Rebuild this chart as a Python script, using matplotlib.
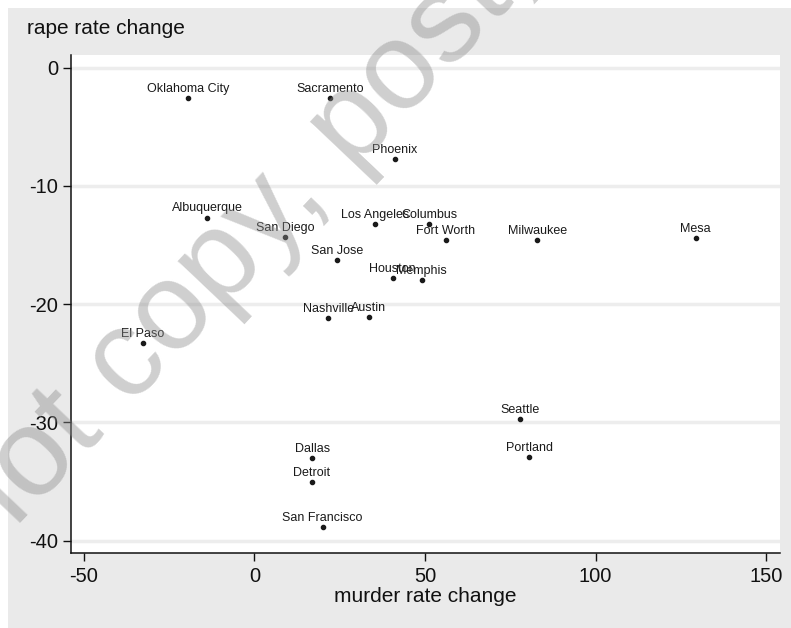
import matplotlib
matplotlib.use("Agg")
import matplotlib.pyplot as plt
from matplotlib.patches import Rectangle

plt.rcParams['font.family'] = ['Liberation Sans', 'DejaVu Sans']
plt.rcParams['axes.unicode_minus'] = False

cities = ["Oklahoma City", "Sacramento", "Phoenix", "Albuquerque", "San Diego",
          "San Jose", "Los Angeles", "Columbus", "Fort Worth", "Milwaukee", "Mesa",
          "Houston", "Memphis", "Nashville", "Austin", "El Paso", "Dallas",
          "Detroit", "San Francisco", "Seattle", "Portland"]
murder_change = [-19.4, 22.2, 41.2, -13.8, 8.9,
                 24.1, 35.3, 51.3, 56.1, 82.9, 129.4,
                 40.5, 49.0, 21.6, 33.5, -32.8, 16.9,
                 16.8, 20.0, 77.9, 80.6]
rape_change = [-2.56, -2.56, -7.75, -12.68, -14.34,
               -16.26, -13.22, -13.25, -14.57, -14.57, -14.4,
               -17.81, -17.95, -21.17, -21.11, -23.31, -33.0,
               -35.06, -38.84, -29.74, -32.92]

x_ticks = [-50, 0, 50, 100, 150]
y_ticks = [0, -10, -20, -30, -40]

W, H = 791, 628
fig = plt.figure(figsize=(W / 100, H / 100), dpi=100, facecolor='#eaeaea')

# thin white strip along the top and left edge
fig.patches.append(Rectangle((0, 1 - 8 / H), 1, 8 / H, transform=fig.transFigure,
                             facecolor='white', edgecolor='none', zorder=0))
fig.patches.append(Rectangle((0, 0), 8 / W, 1, transform=fig.transFigure,
                             facecolor='white', edgecolor='none', zorder=0))

ax = fig.add_axes([71 / W, 1 - 553 / H, (780 - 71) / W, (553 - 55) / H])
ax.set_facecolor('white')
ax.set_xlim(-53.8, 154.1)
ax.set_ylim(-41.04, 1.07)

for y in y_ticks:
    ax.axhline(y, color='#ededed', lw=2.5, zorder=1)

ax.scatter(murder_change, rape_change, s=9, color='#1a1a1a', zorder=3)
for name, x, y in zip(cities, murder_change, rape_change):
    ax.annotate(name, (x, y), xytext=(0, 4.5), textcoords='offset points',
                ha='center', va='baseline', fontsize=9, color='#1a1a1a', zorder=4)

for side in ['top', 'right']:
    ax.spines[side].set_visible(False)
for side in ['left', 'bottom']:
    ax.spines[side].set_linewidth(1.1)
    ax.spines[side].set_color('#111111')

ax.set_xticks(x_ticks)
ax.set_yticks(y_ticks)
ax.tick_params(axis='both', direction='out', length=6, width=1, colors='#111111',
               labelsize=14.5)
ax.tick_params(axis='x', pad=4)
ax.tick_params(axis='y', pad=3)

fig.text(27 / W, 1 - 34 / H, "rape rate change", fontsize=15, color='#111111',
         ha='left', va='baseline')
fig.text(425 / W, 1 - 602 / H, "murder rate change", fontsize=15, color='#111111',
         ha='center', va='baseline')

# diagonal watermark across the upper left
fig.text(-14 / W, 1 - 559 / H, "not copy, post, or distribute", fontsize=90,
         color='#8c8c8c', alpha=0.42, rotation=46.5,
         rotation_mode='anchor', ha='left', va='baseline', zorder=10)

fig.savefig('out.png', dpi=100, facecolor=fig.get_facecolor())
